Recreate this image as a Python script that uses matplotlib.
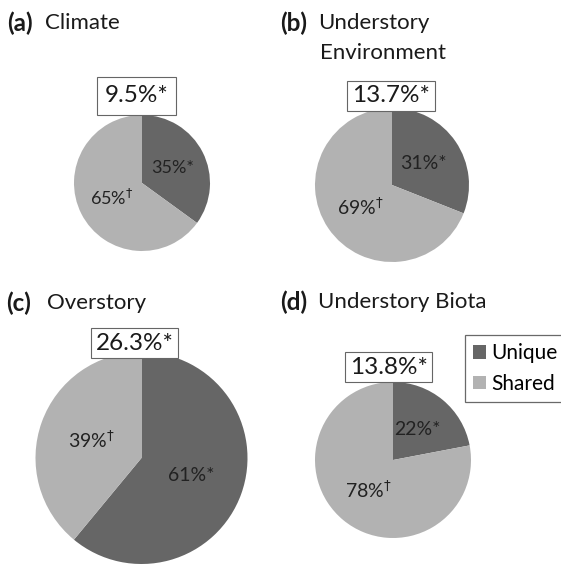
import matplotlib
matplotlib.use("Agg")
import matplotlib.pyplot as plt
from matplotlib.patches import Patch

plt.rcParams['font.family'] = ['Lato', 'DejaVu Sans']
plt.rcParams['mathtext.fontset'] = 'dejavusans'

W, H = 561, 568

# ---- data ----
panels = ["(a)", "(b)", "(c)", "(d)"]
titles = ["Climate", "Understory\nEnvironment", "Overstory", "Understory Biota"]
unique_pct = [35, 31, 61, 22]
shared_pct = [65, 69, 39, 78]
total_pct = ["9.5%*", "13.7%*", "26.3%*", "13.8%*"]
series_names = ["Unique", "Shared"]
colors = ["#666666", "#b2b2b2"]

# ---- layout (pixels) ----
centers = [(142, 183), (392, 185), (141.5, 458), (393, 460)]
radii = [68, 77, 106, 78]
box_pos = [(136.5, 96), (391, 96), (134.5, 343), (388.5, 367)]
box_pad = [0.33, 0.2, 0.2, 0.2]
label_fs = [13, 14, 14, 14]
title_pos = [(7, 23), (280, 23), (6, 303), (280, 302)]
title_word_x = [45, 318, 47, 318]

fig = plt.figure(figsize=(W / 100, H / 100), dpi=100)
fig.patch.set_facecolor("white")


def fx(x):
    return x / W


def fy(y):
    return 1 - y / H


for i in range(4):
    cx, cy = centers[i]
    r = radii[i]
    ax = fig.add_axes([fx(cx - r), fy(cy + r), 2 * r / W, 2 * r / H])
    vals = [unique_pct[i], shared_pct[i]]
    labels = [f"{unique_pct[i]}%*", f"{shared_pct[i]}%" + r"$^{\dagger}$"]
    wedges, texts = ax.pie(vals, colors=colors, startangle=90, counterclock=False,
                           labels=labels, labeldistance=0.5, radius=1,
                           wedgeprops=dict(edgecolor="none", linewidth=0),
                           textprops=dict(fontsize=label_fs[i], color="#222222"))
    for t in texts:
        t.set_ha("center")
        t.set_va("center")
    ax.set_xlim(-1.0, 1.0)
    ax.set_ylim(-1.0, 1.0)
    ax.axis("off")

    bx, by = box_pos[i]
    fig.text(fx(bx), fy(by), total_pct[i], fontsize=17.5, ha="center", va="center",
             color="#1a1a1a",
             bbox=dict(boxstyle=f"square,pad={box_pad[i]}", facecolor="white",
                       edgecolor="#666666", linewidth=0.8))

    tx, ty = title_pos[i]
    fig.text(fx(tx), fy(ty), panels[i], fontsize=17.5, fontweight="bold",
             ha="left", va="center", color="#1a1a1a")
    lines = titles[i].split("\n")
    fig.text(fx(title_word_x[i]), fy(ty), lines[0], fontsize=16,
             ha="left", va="center", color="#1a1a1a")
    if len(lines) > 1:
        fig.text(fx(320), fy(ty + 30), lines[1], fontsize=16,
                 ha="left", va="center", color="#1a1a1a")

handles = [Patch(facecolor=colors[k], edgecolor="none", label=series_names[k]) for k in range(2)]
leg = fig.legend(handles=handles, loc="upper left", bbox_to_anchor=(fx(465), fy(335)),
                 fontsize=15, frameon=True, fancybox=False, handlelength=0.6,
                 handleheight=0.6, handletextpad=0.25, borderpad=0.4, labelspacing=0.5,
                 borderaxespad=0)
leg.get_frame().set_edgecolor("#444444")
leg.get_frame().set_linewidth(0.9)

fig.savefig("out.png", dpi=100, facecolor="white")
